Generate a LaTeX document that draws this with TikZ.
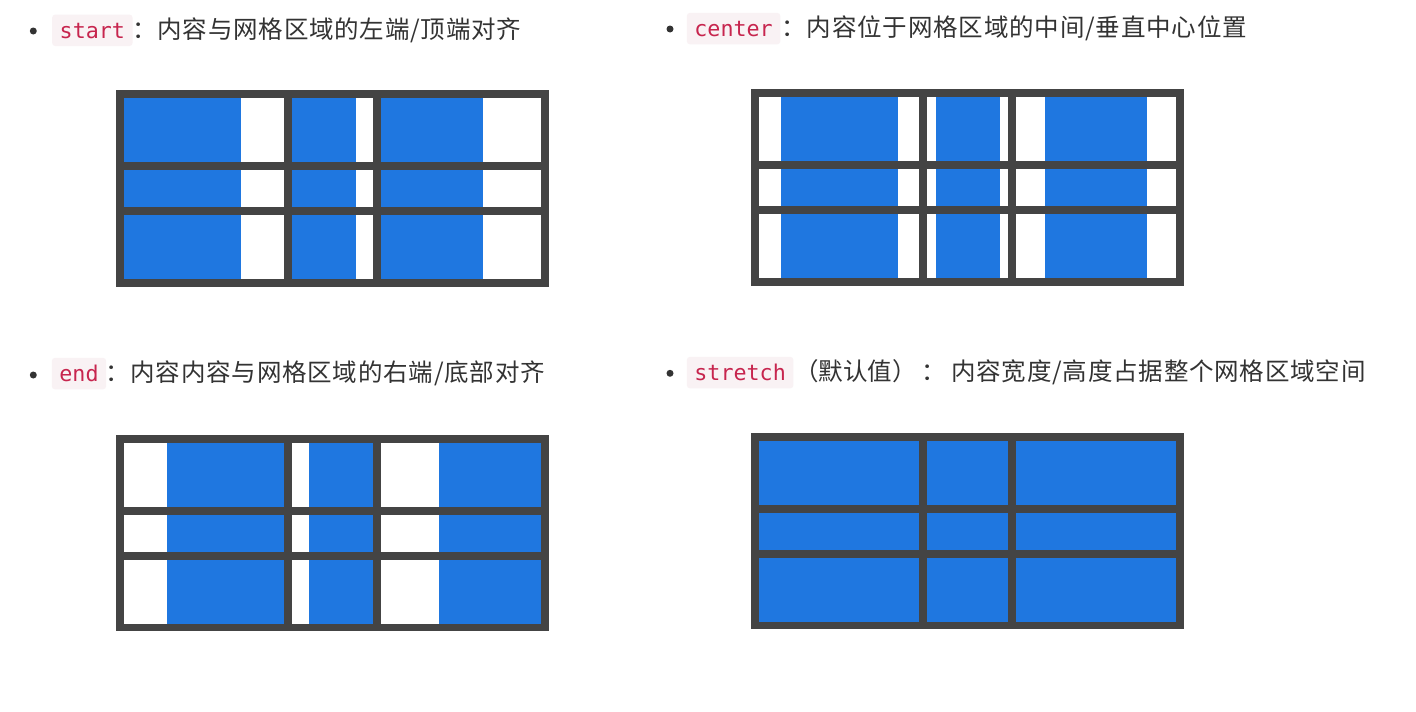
\documentclass[tikz,border=0pt]{standalone}
\usepackage{fontspec}
\newfontfamily\cjk[LetterSpace=3.3]{Noto Sans CJK SC}
\newfontfamily\cjkp{Noto Sans CJK SC}
\newfontfamily\codefont{DejaVu Sans Mono}
\definecolor{txt}{HTML}{333333}
\definecolor{codered}{HTML}{C7254E}
\definecolor{codebg}{HTML}{F9F2F4}
\definecolor{framegray}{HTML}{444444}
\definecolor{cellblue}{HTML}{1F77E0}
\tikzset{
  bulletdot/.style={circle,fill=txt,inner sep=0pt,minimum size=7pt},
  codebox/.style={fill=codebg,rounded corners=3pt,text=codered,inner xsep=7.5pt,inner ysep=0pt,
     text height=23.7pt,text depth=7.7pt,font=\codefont\fontsize{21.7}{26}\selectfont,anchor=base west},
  desc/.style={text=txt,inner sep=0pt,anchor=base west,font=\cjk\fontsize{24.5}{29}\selectfont},
  descp/.style={text=txt,inner sep=0pt,anchor=base,font=\cjkp\fontsize{24.5}{29}\selectfont},
}
% #1 X, #2 Y, #3 alignment factor (0 start, 0.5 center, 1 end), #4 stretch flag
\newcommand{\cssgrid}[4]{%
  \begin{scope}[shift={(#1,#2)}]
    \fill[framegray] (0,0) rectangle (433.3,196.7);
    \foreach \cx/\cw/\bw in {8/160/117, 176/81.3/64, 265.3/160/102}{
      \foreach \ry/\rh in {8/64, 80/37, 125/64}{
        \fill[white] (\cx,\ry) rectangle ++(\cw,\rh);
        \pgfmathsetmacro\bww{ifthenelse(#4==1,\cw,\bw)}
        \pgfmathsetmacro\bx{\cx+#3*(\cw-\bww)}
        \fill[cellblue] (\bx,\ry) rectangle ++(\bww,\rh);
      }
    }
  \end{scope}}
\begin{document}
\begin{tikzpicture}[x=1pt,y=-1pt]
\useasboundingbox[fill=white] (0,0) rectangle (1416,712);

% item 1: start
\node[bulletdot] (b1) at (33.3,31) {};
\node[codebox] (c1) at (52,38.3) {start};
\node[desc] (t1) at (132,38.3) {：内容与网格区域的左端/顶端对齐};
\cssgrid{116}{90.3}{0}{0}

% item 2: center
\node[bulletdot] (b2) at (670,29) {};
\node[codebox] (c2) at (686.7,36.6) {center};
\node[desc] (t2) at (781.5,36.6) {：内容位于网格区域的中间/垂直中心位置};
\cssgrid{751}{89}{0.5}{0}

% item 3: end
\node[bulletdot] (b3) at (33.3,375) {};
\node[codebox] (c3) at (51.7,381.6) {end};
\node[desc] (t3) at (105,381.6) {：内容内容与网格区域的右端/底部对齐};
\cssgrid{116}{434.7}{1}{0}

% item 4: stretch
\node[bulletdot] (b4) at (670,373.3) {};
\node[codebox] (c4) at (686.7,380.6) {stretch};
\node[descp] (p4) at (855.3,380.6) {（默认值）};
\node[desc] (t4) at (921.5,380.6) {：};
\node[desc] (u4) at (951,380.6) {内容宽度/高度占据整个网格区域空间};
\cssgrid{751}{432.7}{0}{1}
\end{tikzpicture}
\end{document}
